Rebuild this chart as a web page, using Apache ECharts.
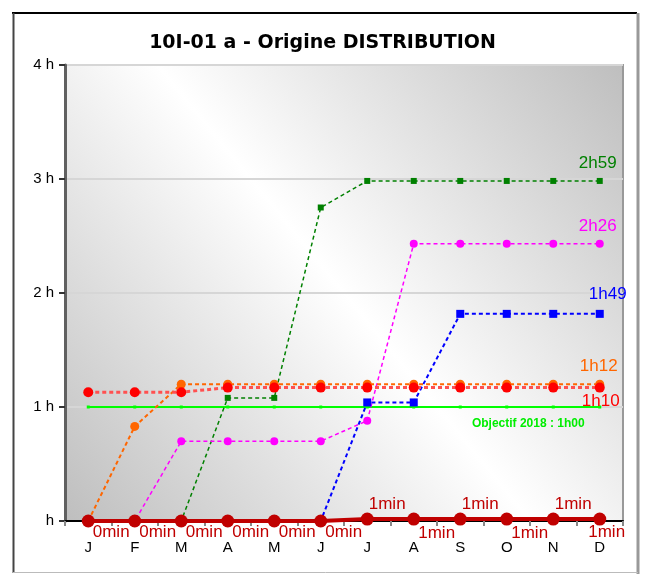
<!DOCTYPE html>
<html>
<head>
<meta charset="utf-8">
<script src="https://cdn.jsdelivr.net/npm/echarts@6/dist/echarts.min.js"></script>
<style>html,body{margin:0;padding:0;background:#fff;}#c{width:645px;height:574px;}</style>
</head>
<body>
<div id="c"></div>
<script>
const months = ['J','F','M','A','M','J','J','A','S','O','N','D'];
const objectif = [1,1,1,1,1,1,1,1,1,1,1,1];
const serGreen = [0,0,0,1.08,1.08,2.75,2.983,2.983,2.983,2.983,2.983,2.983];
const serMagenta = [0,0,0.7,0.7,0.7,0.7,0.88,2.433,2.433,2.433,2.433,2.433];
const serBlue = [0,0,0,0,0,0,1.04,1.04,1.817,1.817,1.817,1.817];
const serOrange = [0,0.83,1.2,1.2,1.2,1.2,1.2,1.2,1.2,1.2,1.2,1.2];
const serRed = [1.13,1.13,1.13,1.17,1.17,1.17,1.17,1.17,1.17,1.17,1.17,1.17];
const serDarkRed = [0,0,0,0,0,0,0.0167,0.0167,0.0167,0.0167,0.0167,0.0167];
const endLabels = {green:'2h59', magenta:'2h26', blue:'1h49', orange:'1h12', red:'1h10'};
const objLabel = 'Objectif 2018 : 1h00';
const yTicks = ['h','1 h','2 h','3 h','4 h'];

const FONT = 'Liberation Sans, Arial, sans-serif';
const chart = echarts.init(document.getElementById('c'));

function withEnd(arr, text, color, pos, offset) {
  return arr.map((v, i) => i === arr.length - 1 ? {
    value: v,
    label: {show: true, formatter: text, position: pos, offset: offset, color: color,
            fontSize: 17, fontFamily: FONT, distance: 4}
  } : v);
}

const darkData = serDarkRed.map((v, i) => {
  let lab;
  const last = serDarkRed.length - 1;
  if (i < 6) lab = {position: 'right', offset: [-2, 11]};
  else if (i === last) lab = {position: 'right', offset: [-18, 13]};
  else if (i % 2 === 0) lab = {position: 'right', offset: [-5, -15]};
  else lab = {position: 'right', offset: [-2, 14]};
  return {value: v, label: Object.assign({show: true, formatter: v === 0 ? '0min' : '1min',
          color: '#c00000', fontSize: 17, fontFamily: FONT, distance: 0}, lab)};
});

const objData = objectif.map((v, i) => i === 10 ? {
  value: v,
  label: {show: true, formatter: objLabel, position: 'bottom', offset: [-25, 4],
          color: '#00ee00', fontSize: 12, fontWeight: 'bold', fontFamily: FONT}
} : v);

const dashed = (c, w) => ({color: c, width: w, type: [4, 3]});

chart.setOption({
  animation: false,
  backgroundColor: '#ffffff',
  title: {
    text: '10I-01 a - Origine DISTRIBUTION', left: 'center', top: 29,
    textStyle: {fontFamily: 'DejaVu Sans, sans-serif', fontSize: 19, fontWeight: 'bold', color: '#000'}
  },
  graphic: [
    {type: 'line', shape: {x1: 12, y1: 13, x2: 637, y2: 13}, style: {stroke: '#000', lineWidth: 2}},
    {type: 'line', shape: {x1: 13.5, y1: 13, x2: 13.5, y2: 573}, style: {stroke: '#444', lineWidth: 2}},
    {type: 'line', shape: {x1: 638, y1: 13, x2: 638, y2: 574}, style: {stroke: '#999', lineWidth: 3}},
    {type: 'line', shape: {x1: 13, y1: 572.5, x2: 638, y2: 572.5}, style: {stroke: '#bbb', lineWidth: 1}}
  ],
  grid: {
    left: 65, right: 22, top: 65, bottom: 53, show: true,
    borderColor: '#999', borderWidth: 2,
    backgroundColor: new echarts.graphic.LinearGradient(0, 1, 1, 0, [
      {offset: 0, color: '#bebebe'}, {offset: 0.5, color: '#ffffff'}, {offset: 1, color: '#bebebe'}
    ])
  },
  xAxis: {
    type: 'category', data: months, boundaryGap: true,
    axisLine: {lineStyle: {color: '#000', width: 2}},
    axisTick: {show: true, length: 5, lineStyle: {color: '#888', width: 2}},
    axisLabel: {color: '#000', fontSize: 15, fontFamily: FONT, margin: 19}
  },
  yAxis: {
    type: 'value', min: 0, max: 4, interval: 1,
    axisLine: {show: true, lineStyle: {color: '#606060', width: 3}},
    axisTick: {show: true, length: 6, lineStyle: {color: '#333', width: 2}},
    axisLabel: {color: '#000', fontSize: 15, fontFamily: FONT, margin: 11,
                formatter: v => yTicks[v]},
    splitLine: {lineStyle: {color: '#d6d6d6', width: 2}}
  },
  series: [
    {type: 'line', name: 'Objectif', data: objData, symbol: 'rect', symbolSize: 3,
     itemStyle: {color: '#00ff00'}, lineStyle: {color: '#00ff00', width: 2}, z: 2},
    {type: 'line', name: 'green', data: withEnd(serGreen, endLabels.green, '#008000', 'top', [-2, -2]),
     symbol: 'rect', symbolSize: 6, itemStyle: {color: '#008000'}, lineStyle: dashed('#008000', 1.5), z: 3},
    {type: 'line', name: 'magenta', data: withEnd(serMagenta, endLabels.magenta, '#ff00ff', 'top', [-2, -1]),
     symbol: 'circle', symbolSize: 8, itemStyle: {color: '#ff00ff'}, lineStyle: dashed('#ff00ff', 1.5), z: 3},
    {type: 'line', name: 'blue', data: withEnd(serBlue, endLabels.blue, '#0000ff', 'top', [8, -3]),
     symbol: 'rect', symbolSize: 8, itemStyle: {color: '#0000ff'}, lineStyle: dashed('#0000ff', 2), z: 3},
    {type: 'line', name: 'orange', data: withEnd(serOrange, endLabels.orange, '#ff6600', 'top', [-1, -1]),
     symbol: 'circle', symbolSize: 9, itemStyle: {color: '#ff6600'}, lineStyle: dashed('#ff6600', 2), z: 4},
    {type: 'line', name: 'red', data: withEnd(serRed, endLabels.red, '#ff0000', 'bottom', [1, -4]),
     symbol: 'circle', symbolSize: 10, itemStyle: {color: '#ff0000'}, lineStyle: dashed('#ff5050', 3), z: 4},
    {type: 'line', name: 'darkred', data: darkData, symbol: 'circle', symbolSize: 13,
     itemStyle: {color: '#c00000'}, lineStyle: {color: '#c00000', width: 4}, z: 5}
  ]
});
</script>
</body>
</html>
